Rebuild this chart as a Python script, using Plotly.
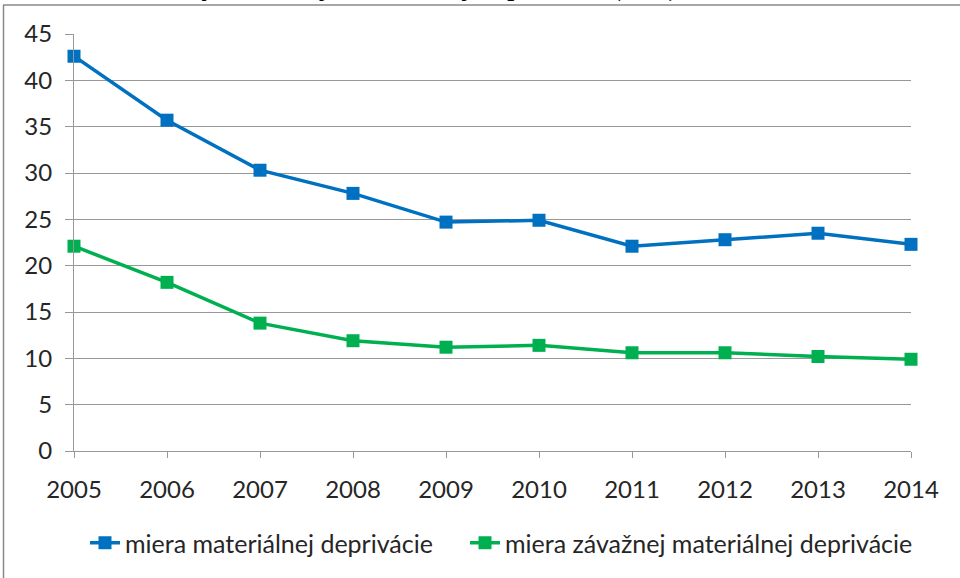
import plotly.graph_objects as go

years = ["2005", "2006", "2007", "2008", "2009", "2010", "2011", "2012", "2013", "2014"]
miera_md = [42.6, 35.7, 30.3, 27.8, 24.7, 24.9, 22.1, 22.8, 23.5, 22.3]
miera_zmd = [22.1, 18.2, 13.8, 11.9, 11.2, 11.4, 10.6, 10.6, 10.2, 9.9]
series_names = ["miera materiálnej deprivácie", "miera závažnej materiálnej deprivácie"]
y_ticks = [0, 5, 10, 15, 20, 25, 30, 35, 40, 45]
title_text = "Graf 1 Miery závažnej materiálnej deprivácie (v %)"

BLUE = "#0070C0"
GREEN = "#00B050"
GRID = "#989898"
TXT = "#262626"
FONT = "Lato"

# plot area in pixels
W, H = 960, 578
L, R, T, B = 74, 49, 34, 127
pw, ph = W - L - R, H - T - B


def px_x(x):
    return (x - L) / pw


def px_y(y):
    return (H - B - y) / ph


fig = go.Figure()
for name, vals, col, lg in [(series_names[0], miera_md, BLUE, "legend"),
                            (series_names[1], miera_zmd, GREEN, "legend2")]:
    fig.add_trace(go.Scatter(
        x=years, y=vals, name=name, mode="lines+markers",
        line=dict(color=col, width=3.5),
        marker=dict(symbol="square", size=13, color=col),
        cliponaxis=False, legend=lg,
    ))

leg_common = dict(orientation="h", xanchor="left", y=px_y(543), yanchor="middle",
                  font=dict(family=FONT, size=25, color=TXT), bgcolor="rgba(0,0,0,0)",
                  itemwidth=30)

fig.update_layout(
    width=W, height=H,
    margin=dict(l=L, r=R, t=T, b=B, pad=0),
    paper_bgcolor="white", plot_bgcolor="white",
    font=dict(family=FONT, size=24, color=TXT),
    showlegend=True,
    legend=dict(x=px_x(85), **leg_common),
    legend2=dict(x=px_x(465), **leg_common),
    xaxis=dict(type="category", range=[0, 9], showgrid=False, showline=True,
               linecolor=GRID, linewidth=1, ticks="outside", ticklen=6, tickcolor=GRID,
               tickfont=dict(family=FONT, size=24, color=TXT), ticklabelstandoff=11,
               zeroline=False, fixedrange=True),
    yaxis=dict(range=[0, 45], tickvals=y_ticks, showgrid=True, gridcolor=GRID, gridwidth=1,
               showline=True, linecolor=GRID, linewidth=1, ticks="outside", ticklen=8,
               tickcolor=GRID, tickfont=dict(family=FONT, size=24, color=TXT),
               ticklabelstandoff=8, zeroline=False, fixedrange=True),
    shapes=[
        dict(type="line", xref="paper", yref="paper", x0=px_x(3), x1=px_x(962),
             y0=px_y(5), y1=px_y(5), line=dict(color="#8a8a8a", width=1.5)),
        dict(type="line", xref="paper", yref="paper", x0=px_x(3.5), x1=px_x(3.5),
             y0=px_y(5), y1=px_y(590), line=dict(color="#8a8a8a", width=1.5)),
    ],
    annotations=[
        dict(text=title_text, xref="paper", yref="paper", x=px_x(56), y=px_y(4.5),
             xanchor="left", yanchor="bottom", showarrow=False,
             font=dict(family="Liberation Serif", size=30, color="black")),
    ],
)

fig.write_html("out.html", config={"displayModeBar": False},
               post_script="document.body.style.margin='0px';")
